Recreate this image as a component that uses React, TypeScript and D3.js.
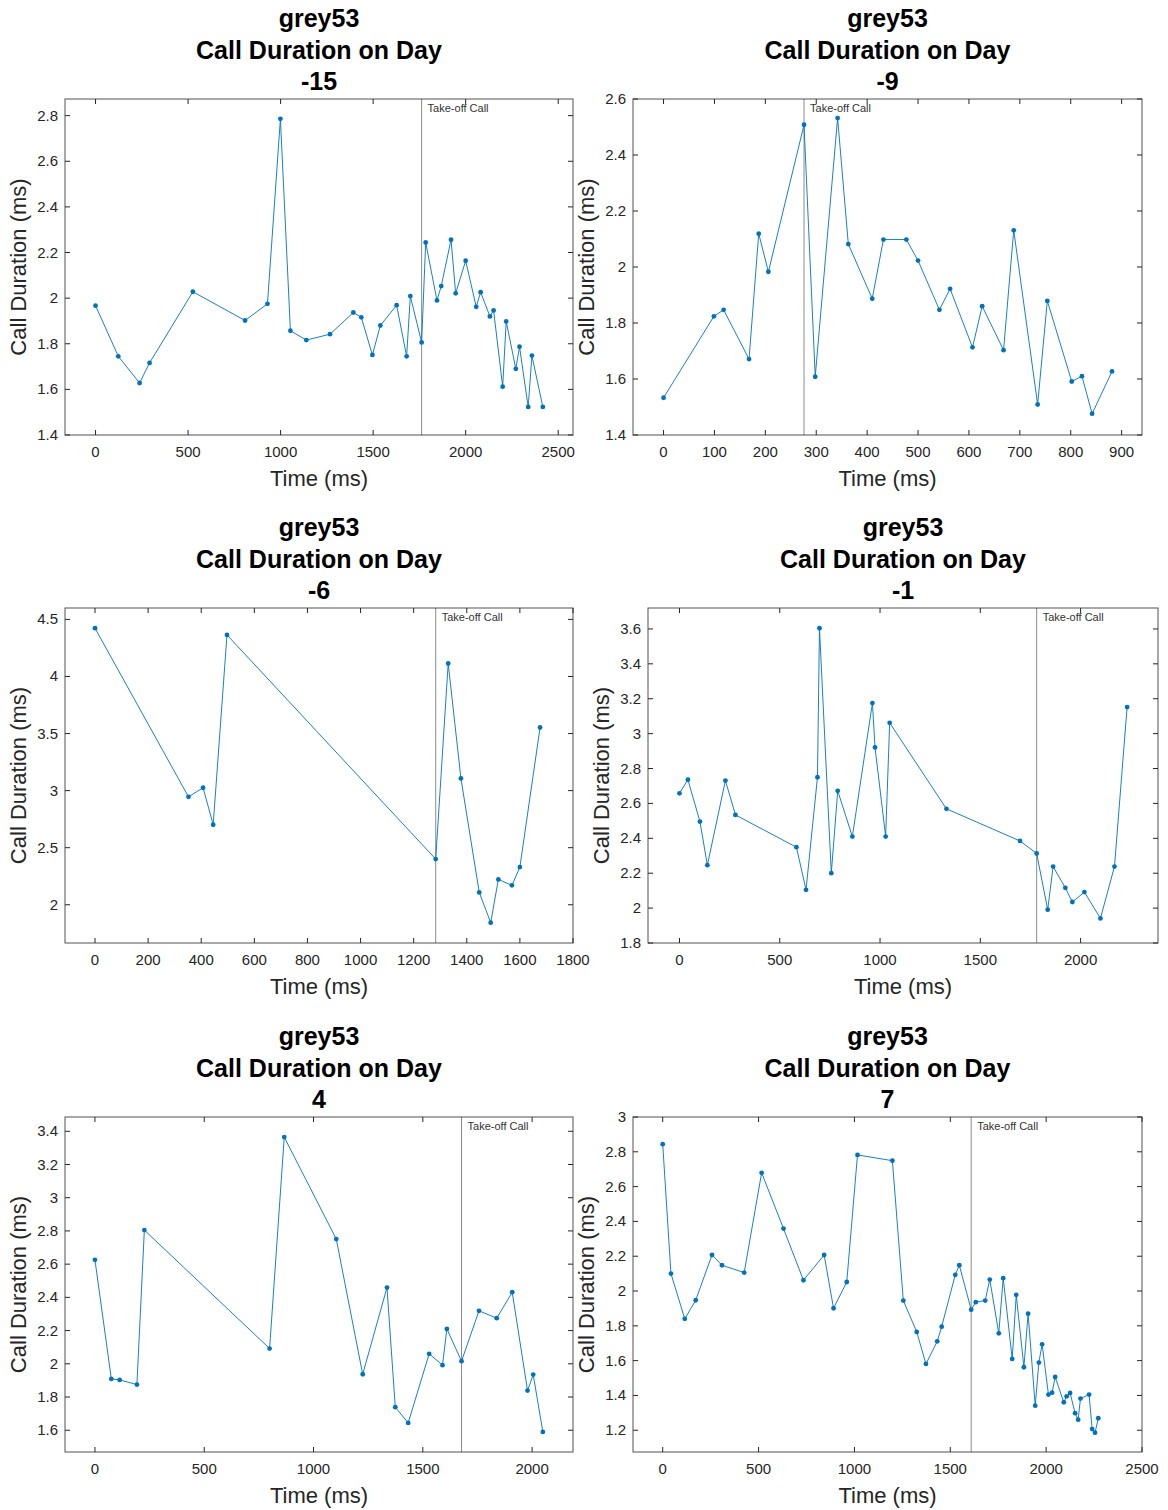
import React from "react";
import * as d3 from "d3";

const subjectName = "grey53";
const dayLabels = ["-15", "-9", "-6", "-1", "4", "7"];

const timeDayM15 = [0,123,238,292,526,808,929,999,1053,1139,1267,1393,1436,1496,1539,1627,1681,1701,1762,1784,1845,1868,1921,1946,2000,2057,2081,2131,2151,2200,2219,2271,2291,2338,2358,2417];
const durDayM15 = [1.967,1.745,1.628,1.716,2.028,1.902,1.975,2.786,1.857,1.816,1.842,1.937,1.916,1.751,1.88,1.969,1.745,2.009,1.806,2.244,1.990,2.053,2.256,2.021,2.164,1.962,2.026,1.920,1.946,1.612,1.898,1.690,1.787,1.523,1.748,1.523];

const timeDayM9 = [0,99,118,168,187,206,276,298,342,363,410,432,477,500,542,563,607,626,668,688,735,754,802,822,842,881];
const durDayM9 = [1.533,1.824,1.847,1.671,2.119,1.983,2.508,1.608,2.532,2.082,1.887,2.098,2.098,2.023,1.847,1.922,1.713,1.860,1.703,2.131,1.509,1.879,1.591,1.610,1.476,1.627];

const timeDayM6 = [0,352,407,445,497,1283,1330,1378,1447,1490,1519,1570,1600,1676];
const durDayM6 = [4.423,2.946,3.025,2.701,4.364,2.400,4.114,3.107,2.108,1.843,2.222,2.170,2.330,3.553];

const timeDayM1 = [0,42,102,139,229,279,583,631,688,698,757,789,862,962,975,1028,1048,1331,1698,1781,1836,1863,1924,1959,2019,2099,2169,2232];
const durDayM1 = [2.658,2.736,2.496,2.246,2.731,2.534,2.349,2.105,2.750,3.604,2.20,2.672,2.41,3.175,2.921,2.41,3.062,2.569,2.385,2.313,1.991,2.238,2.116,2.035,2.092,1.941,2.238,3.152];

const timeDayP4 = [0,75,113,192,226,799,866,1104,1225,1336,1374,1433,1529,1590,1610,1677,1757,1838,1909,1979,2005,2049];
const durDayP4 = [2.626,1.909,1.903,1.875,2.805,2.092,3.365,2.751,1.937,2.459,1.739,1.644,2.060,1.992,2.210,2.016,2.319,2.275,2.431,1.839,1.935,1.590];

const timeDayP7 = [0,43,115,172,257,309,425,516,630,734,842,891,960,1016,1198,1255,1325,1373,1432,1455,1526,1547,1609,1633,1682,1706,1753,1776,1823,1844,1884,1906,1943,1962,1979,2012,2031,2047,2092,2107,2125,2151,2167,2179,2224,2240,2255,2272];
const durDayP7 = [2.844,2.100,1.840,1.947,2.207,2.148,2.106,2.679,2.359,2.062,2.207,1.901,2.052,2.782,2.749,1.945,1.765,1.581,1.711,1.795,2.093,2.148,1.893,1.936,1.945,2.066,1.757,2.074,1.610,1.978,1.562,1.870,1.341,1.589,1.694,1.405,1.416,1.506,1.361,1.395,1.414,1.298,1.261,1.382,1.405,1.207,1.186,1.269];

const takeoffTimes = [1762, 276, 1283, 1781, 1677, 1609];

const xTicksList = [
  [0, 500, 1000, 1500, 2000, 2500],
  [0, 100, 200, 300, 400, 500, 600, 700, 800, 900],
  [0, 200, 400, 600, 800, 1000, 1200, 1400, 1600, 1800],
  [0, 500, 1000, 1500, 2000],
  [0, 500, 1000, 1500, 2000],
  [0, 500, 1000, 1500, 2000, 2500],
];
const yTicksList = [
  [1.4, 1.6, 1.8, 2, 2.2, 2.4, 2.6, 2.8],
  [1.4, 1.6, 1.8, 2, 2.2, 2.4, 2.6],
  [2, 2.5, 3, 3.5, 4, 4.5],
  [1.8, 2, 2.2, 2.4, 2.6, 2.8, 3, 3.2, 3.4, 3.6],
  [1.6, 1.8, 2, 2.2, 2.4, 2.6, 2.8, 3, 3.2, 3.4],
  [1.2, 1.4, 1.6, 1.8, 2, 2.2, 2.4, 2.6, 2.8, 3],
];
const xDomains = [[-165, 2580], [-60, 940], [-113, 1800], [-157, 2386], [-137, 2187], [-155, 2500]];
const yDomains = [[1.4, 2.873], [1.4, 2.6], [1.665, 4.6], [1.8, 3.72], [1.469, 3.486], [1.075, 3.0]];

const seriesTimes = [timeDayM15, timeDayM9, timeDayM6, timeDayM1, timeDayP4, timeDayP7];
const seriesDurs = [durDayM15, durDayM9, durDayM6, durDayM1, durDayP4, durDayP7];

// layout boxes [left, right, top, bottom]
const boxes = [
  [65, 573, 99, 435],
  [633, 1142, 99, 435],
  [65, 573, 608, 943],
  [648, 1158, 608, 943],
  [65, 573, 1117, 1452],
  [633, 1142, 1117, 1452],
];

const FONT = "'Liberation Sans', Arial, Helvetica, sans-serif";
const LINE = "#0072BD";
const AX = "#262626";

const fmt = (d: number) => String(+d.toFixed(2));

function Panel({ i }: { i: number }) {
  const [L, R, T, B] = boxes[i];
  const x = d3.scaleLinear().domain(xDomains[i]).range([L, R]);
  const y = d3.scaleLinear().domain(yDomains[i]).range([B, T]);
  const pts = seriesTimes[i].map((t, k) => [t, seriesDurs[i][k]] as [number, number]);
  const line = d3.line<[number, number]>().x((d) => x(d[0])).y((d) => y(d[1]));
  const cx = (L + R) / 2;
  const cy = (T + B) / 2;
  const tl = 5;
  const tx = x(takeoffTimes[i]);
  return (
    <g>
      <text x={cx} y={T - 72} textAnchor="middle" fontSize={25} fontWeight="bold" fill="#000" fontFamily={FONT}>{subjectName}</text>
      <text x={cx} y={T - 40} textAnchor="middle" fontSize={25} fontWeight="bold" fill="#000" fontFamily={FONT}>Call Duration on Day</text>
      <text x={cx} y={T - 9} textAnchor="middle" fontSize={25} fontWeight="bold" fill="#000" fontFamily={FONT}>{dayLabels[i]}</text>
      <rect x={L} y={T} width={R - L} height={B - T} fill="#fff" stroke="none" />
      {xTicksList[i].map((v) => (
        <g key={"x" + v}>
          <line x1={x(v)} x2={x(v)} y1={B} y2={B - tl} stroke={AX} strokeWidth={1} />
          <line x1={x(v)} x2={x(v)} y1={T} y2={T + tl} stroke={AX} strokeWidth={1} />
          <text x={x(v)} y={B + 22} textAnchor="middle" fontSize={15} fill={AX} fontFamily={FONT}>{fmt(v)}</text>
        </g>
      ))}
      {yTicksList[i].map((v) => (
        <g key={"y" + v}>
          <line x1={L} x2={L + tl} y1={y(v)} y2={y(v)} stroke={AX} strokeWidth={1} />
          <line x1={R} x2={R - tl} y1={y(v)} y2={y(v)} stroke={AX} strokeWidth={1} />
          <text x={L - 7} y={y(v) + 5} textAnchor="end" fontSize={15} fill={AX} fontFamily={FONT}>{fmt(v)}</text>
        </g>
      ))}
      <line x1={tx} x2={tx} y1={T} y2={B} stroke="#8c8c8c" strokeWidth={1} />
      <text x={tx + 6} y={T + 13} fontSize={11} fill="#333" fontFamily={FONT}>Take-off Call</text>
      <path d={line(pts) || ""} fill="none" stroke={LINE} strokeWidth={0.9} />
      {pts.map((p, k) => (
        <circle key={k} cx={x(p[0])} cy={y(p[1])} r={2.4} fill={LINE} />
      ))}
      <rect x={L} y={T} width={R - L} height={B - T} fill="none" stroke={AX} strokeWidth={1} strokeOpacity={0.8} />
      <text x={cx} y={B + 51} textAnchor="middle" fontSize={22} fill={AX} fontFamily={FONT}>Time (ms)</text>
      <text transform={`translate(${L - 39},${cy}) rotate(-90)`} textAnchor="middle" fontSize={22} fill={AX} fontFamily={FONT}>Call Duration (ms)</text>
    </g>
  );
}

export default function App() {
  return (
    <svg width={1168} height={1510} style={{ position: "absolute", left: 0, top: 0, background: "#fff" }}>
      <rect x={0} y={0} width={1168} height={1510} fill="#fff" />
      {boxes.map((_, i) => (
        <Panel key={i} i={i} />
      ))}
    </svg>
  );
}
